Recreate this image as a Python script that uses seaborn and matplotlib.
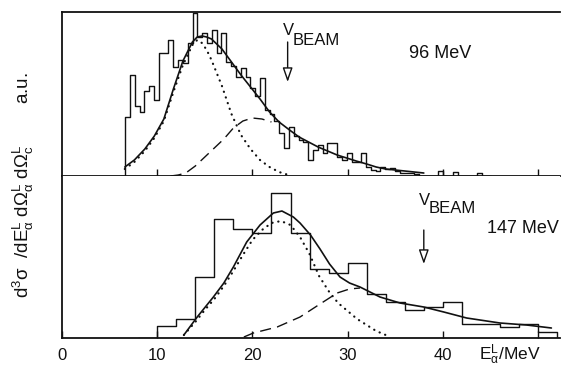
import numpy as np
import pandas as pd
import matplotlib
matplotlib.use("Agg")
import matplotlib.pyplot as plt
import seaborn as sns
from matplotlib import font_manager

# ---------------- data (arbitrary units) ----------------
# 96 MeV: fine-binned histogram
top_bin_start = 6.63
top_bin_width = 0.506
top_counts = [59, 101, 70, 64, 85, 90, 76, 123, 123, 136, 109, 116, 113, 133, 163,
              139, 143, 133, 146, 123, 143, 114, 110, 99, 108, 99, 88, 80, 98, 66,
              62, 55, 43, 28, 49, 40, 36, 34, 16, 26, 31, 23, 33, 33, 19, 16, 23,
              14, 14, 23, 9, 6, 5, 9, 7, 8, 5, 3, 3, 3, 2, 0, 0, 0, 0, 5, 0, 0, 4,
              0, 0, 0, 0, 3, 0]
top_total_x = [6.6, 7.6, 8.7, 9.7, 10.7, 11.7, 12.7, 13.7, 14.2, 14.7, 15.2, 15.7,
               16.8, 17.8, 18.8, 19.8, 20.8, 21.8, 22.8, 23.9, 24.9, 25.9, 26.9,
               27.9, 28.9, 29.9, 30.9, 32.0, 33.0, 34.0, 35.0, 36.0, 37.0, 38.0]
top_total_y = [9, 16, 27, 40, 57, 87, 115, 134, 139, 140, 139, 137, 127, 114, 101,
               89, 77, 64, 54, 46, 39, 34, 29, 25, 21, 18, 15, 12, 9, 7, 6, 5, 4, 3]
top_dot_x = [6.6, 7.6, 8.7, 9.7, 10.7, 11.7, 12.7, 13.7, 14.2, 14.7, 15.2, 15.7,
             16.8, 17.8, 18.8, 19.8, 20.8, 21.8, 22.8, 23.8]
top_dot_y = [7, 14, 25, 38, 55, 84, 111, 131, 136, 133, 126, 116, 90, 62, 41, 27,
             16, 9, 4, 1]
top_dash_x = [11.4, 12.2, 13.0, 14.0, 15.0, 16.0, 17.0, 18.0, 19.0, 20.0, 21.0, 22.0]
top_dash_y = [0, 1, 3, 10, 19, 28, 37, 48, 55, 58, 57, 54]

# 147 MeV: 2 MeV bins
bot_edges = [10, 12, 14, 16, 18, 20, 22, 24, 26, 28, 30, 32, 34, 36, 38, 40, 42,
             44, 46, 48, 50, 52]
bot_counts = [12, 19, 61, 119, 109, 105, 145, 105, 69, 65, 75, 44, 36, 28, 31, 36,
              14, 14, 11, 14, 6]
bot_total_x = [12.8, 14.2, 15.9, 17.0, 18.0, 19.4, 20.8, 22.2, 23.1, 24.3, 25.0,
               26.1, 27.1, 28.1, 29.2, 30.2, 31.3, 33.4, 35.5, 38.0, 40.1, 42.5,
               46.0, 48.8, 51.4]
bot_total_y = [3, 21, 41, 55, 71, 96, 113, 125, 127, 121, 115, 103, 89, 74, 61, 55,
               51, 41, 35, 31, 26, 20, 15, 13, 10]
bot_dot_x = [12.8, 14.0, 15.0, 16.0, 17.0, 18.0, 19.0, 20.0, 21.0, 22.0, 23.0, 24.0,
             25.0, 26.0, 27.0, 28.0, 29.0, 30.0, 31.0, 32.0, 33.0, 34.0]
bot_dot_y = [3, 16, 28, 39, 52, 67, 83, 98, 108, 115, 117, 113, 101, 84, 62, 47, 35,
             27, 19, 13, 7, 3]
bot_dash_x = [19.1, 20.1, 22.6, 25.0, 27.1, 28.9, 30.2, 31.3]
bot_dash_y = [1, 5, 11, 21, 34, 45, 49, 50]

x_ticks = [0, 10, 20, 30, 40, 50]
x_ticklabels = ["0", "10", "20", "30", "40", ""]
labels = {"top": "96 MeV", "bottom": "147 MeV"}
beam_x = {"top": 23.7, "bottom": 38.0}

# ---------------- style ----------------
sns.set_theme(style="white")
avail = {f.name for f in font_manager.fontManager.ttflist}
fam = "Liberation Sans Narrow" if "Liberation Sans Narrow" in avail else (
    "Liberation Sans" if "Liberation Sans" in avail else "DejaVu Sans")
plt.rcParams["font.family"] = [fam, "DejaVu Sans"]
plt.rcParams["mathtext.fontset"] = "custom"
plt.rcParams["mathtext.rm"] = fam
plt.rcParams["mathtext.it"] = fam
plt.rcParams["mathtext.bf"] = fam
ink = "#111111"

fig = plt.figure(figsize=(5.63, 3.67), dpi=100)
ax1 = fig.add_axes([0.1101, 0.5204, 0.8845, 0.4469])
ax2 = fig.add_axes([0.1101, 0.0790, 0.8845, 0.4414])

def hist(ax, edges, counts):
    edges = list(edges)
    w0 = edges[1] - edges[0]
    e = [edges[0] - w0] + edges + [edges[-1] + w0]
    c = [0] + list(counts) + [0]
    centers = [(e[i] + e[i + 1]) / 2 for i in range(len(c))]
    sns.histplot(x=centers, weights=c, bins=e, element="step", fill=False,
                 color=ink, linewidth=1.0, ax=ax)

top_edges = [top_bin_start + top_bin_width * i for i in range(len(top_counts) + 1)]
hist(ax1, top_edges, top_counts)
hist(ax2, bot_edges, bot_counts)

dot_ls = (0, (0.1, 2.6))
dash_ls = (0, (8, 4.5))
for ax, tx, ty, dx, dy, ax_, ay_ in [
        (ax1, top_total_x, top_total_y, top_dot_x, top_dot_y, top_dash_x, top_dash_y),
        (ax2, bot_total_x, bot_total_y, bot_dot_x, bot_dot_y, bot_dash_x, bot_dash_y)]:
    sns.lineplot(x=tx, y=ty, ax=ax, color=ink, linewidth=1.2)
    sns.lineplot(x=dx, y=dy, ax=ax, color=ink, linewidth=1.6, linestyle=dot_ls,
                 dash_capstyle="round")
    sns.lineplot(x=ax_, y=ay_, ax=ax, color=ink, linewidth=1.0, linestyle=dash_ls)

ax1.set_ylim(0, 164)
ax2.set_ylim(0, 162)
for ax in (ax1, ax2):
    ax.set_xlim(0, 52.3)
    ax.set_yticks([])
    ax.set_ylabel("")
    ax.set_xlabel("")
    ax.set_xticks(x_ticks)
    ax.tick_params(axis="x", direction="in", length=5, width=1.0, color=ink,
                   pad=7, labelsize=12, labelcolor=ink, bottom=True)
    ax.spines["right"].set_visible(False)
    for s in ax.spines.values():
        s.set_color(ink)
        s.set_linewidth(1.3)
ax1.set_xticklabels([])
ax2.set_xticklabels(x_ticklabels)
ax2.spines["top"].set_visible(False)
ax1.set_xticks([10, 20, 30, 40, 50])

# annotations
ax1.text(39.7, 123, labels["top"], ha="center", va="center", fontsize=13, color=ink)
ax2.text(48.4, 110, labels["bottom"], ha="center", va="center", fontsize=13, color=ink)

def beam(ax, x, y_v, y_b, y0, y1):
    ax.text(x - 0.5, y_v, "V", ha="left", va="baseline", fontsize=12, color=ink)
    ax.text(x + 0.55, y_b, "BEAM", ha="left", va="baseline", fontsize=12, color=ink)
    ax.annotate("", xy=(x, y1), xytext=(x, y0),
                arrowprops=dict(arrowstyle="-|>,head_length=0.86,head_width=0.3",
                                mutation_scale=10, fc="white", ec=ink, lw=1.0,
                                shrinkA=0, shrinkB=0))

beam(ax1, beam_x["top"], 141, 131, 134, 94)
beam(ax2, beam_x["bottom"], 133, 125, 108, 74)

ax2.text(47.0, -0.135, r"$\mathregular{E_{\alpha}^{L}/MeV}$", transform=ax2.get_xaxis_transform(),
         ha="center", va="baseline", fontsize=12.5, color=ink)

fig.text(0.042, 0.495,
         r"$\mathregular{d^3\sigma\ \ /dE_{\alpha}^{L}\ d\Omega_{\alpha}^{L}\ d\Omega_{c}^{L}}$        a.u.",
         rotation=90, ha="center", va="center", fontsize=13.5, color=ink)

fig.savefig("out.png", dpi=100, facecolor="white")
